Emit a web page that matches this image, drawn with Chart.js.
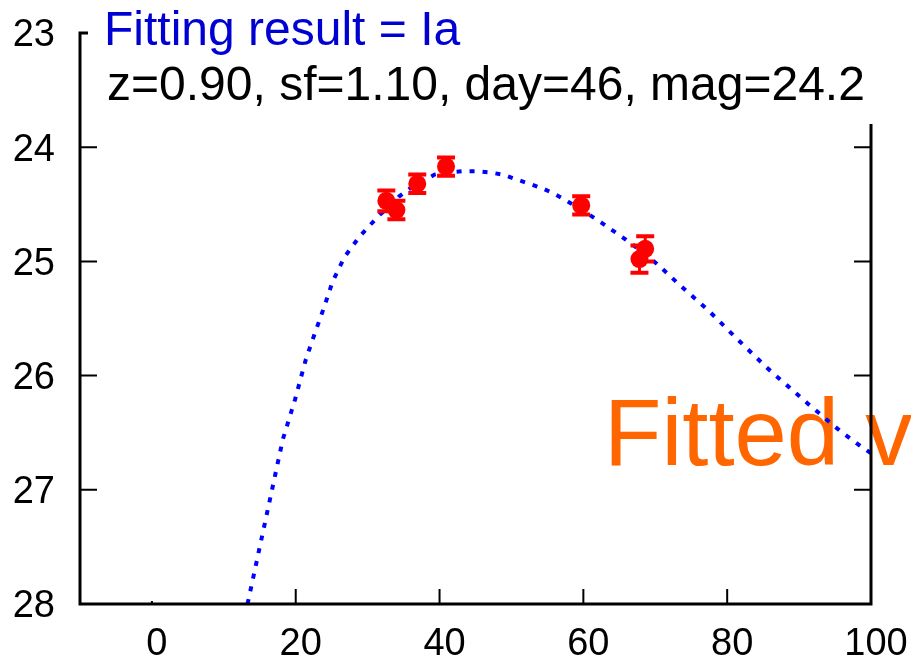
<!DOCTYPE html>
<html>
<head>
<meta charset="utf-8">
<script src="https://cdn.jsdelivr.net/npm/chart.js@4.4.1/dist/chart.umd.min.js"></script>
<style>
html,body{margin:0;padding:0;background:#fff}
#wrap{width:911px;height:661px;position:relative}
</style>
</head>
<body>
<div id="wrap"><canvas id="lightCurve"></canvas></div>
<script>

// observed photometry: day, magnitude, error
const obsDay = [32.6, 34.0, 36.9, 40.9, 59.7, 68.6, 67.8]
const obsMag = [24.47, 24.55, 24.32, 24.17, 24.51, 24.89, 24.98]
const obsErr = [0.09, 0.08, 0.08, 0.08, 0.08, 0.11, 0.12]

// fitted Ia template
const fitDay = [
    13.3, 15.0, 16.6, 18.2, 19.9, 21.4, 22.6, 23.9, 25.1, 26.8,
    28.9, 31.7, 33.1, 34.4, 35.9, 37.6, 39.3, 41.2, 43.2, 45.1,
    46.9, 48.8, 50.6, 52.5, 54.3, 56.0, 57.7, 60.8, 62.5, 64.1,
    65.7, 67.2, 68.7, 70.2, 71.6, 73.1, 77.4, 81.4, 85.5, 88.4,
    91.3, 95.8, 98.8, 100
]
const fitMag = [
    28.0, 27.50, 27.03, 26.56, 26.21, 25.86, 25.64, 25.41, 25.18, 24.96,
    24.78, 24.59, 24.52, 24.43, 24.36, 24.30, 24.24, 24.22, 24.21, 24.21,
    24.22, 24.24, 24.28, 24.32, 24.36, 24.41, 24.47, 24.59, 24.66, 24.73,
    24.80, 24.87, 24.94, 25.02, 25.10, 25.19, 25.43, 25.68, 25.93, 26.09,
    26.25, 26.49, 26.63, 26.68
]

const dayTicks = [0, 20, 40, 60, 80, 100]
const magTicks = [23, 24, 25, 26, 27, 28]

const fitTitle = "Fitting result = Ia"
const fitParams = "z=0.90, sf=1.10, day=46, mag=24.2"
const stampText = "Fitted v"

const FONT = "'Liberation Sans', Arial, Helvetica, sans-serif"
Chart.defaults.font.family = FONT

function pairs(xs, ys){
    return xs.map((x, i) => ({x: x, y: ys[i]}))
}

// keep the tick labels from pushing the plot area around
function noOverflow(s){
    s.paddingTop = 0
    s.paddingBottom = 0
    s.paddingLeft = 0
    s.paddingRight = 0
}

const framePlugin = {
    id: "frame",

    beforeDatasetsDraw(chart){
        const ctx = chart.ctx
        ctx.save()
        ctx.fillStyle = "#ff6600"
        ctx.font = "94px " + FONT
        ctx.textBaseline = "alphabetic"
        ctx.fillText(stampText, 604, 465)
        ctx.restore()
    },

    afterDatasetsDraw(chart){
        // error bars on the observed points
        const ctx = chart.ctx
        const xs = chart.scales.x
        const ys = chart.scales.y
        ctx.save()
        ctx.strokeStyle = "#ff0000"
        obsDay.forEach((d, i) => {
            const px = xs.getPixelForValue(d)
            const top = ys.getPixelForValue(obsMag[i] - obsErr[i])
            const bot = ys.getPixelForValue(obsMag[i] + obsErr[i])
            ctx.lineWidth = 3
            ctx.beginPath()
            ctx.moveTo(px, top)
            ctx.lineTo(px, bot)
            ctx.stroke()
            ctx.lineWidth = 4
            ctx.beginPath()
            ctx.moveTo(px - 9, top)
            ctx.lineTo(px + 9, top)
            ctx.moveTo(px - 9, bot)
            ctx.lineTo(px + 9, bot)
            ctx.stroke()
        })
        ctx.restore()
    },

    afterDraw(chart){
        const ctx = chart.ctx
        const a = chart.chartArea
        const xs = chart.scales.x
        const ys = chart.scales.y
        ctx.save()

        // box
        ctx.strokeStyle = "#000"
        ctx.lineWidth = 3
        ctx.lineCap = "square"
        ctx.beginPath()
        ctx.moveTo(a.left, a.top)
        ctx.lineTo(a.left, a.bottom)
        ctx.lineTo(a.right, a.bottom)
        ctx.lineTo(a.right, a.top)
        ctx.closePath()
        ctx.stroke()

        // inward ticks
        ctx.lineWidth = 2
        ctx.lineCap = "butt"
        ctx.beginPath()
        magTicks.forEach(m => {
            if (m === 23 || m === 28) return
            const py = ys.getPixelForValue(m)
            ctx.moveTo(a.left, py)
            ctx.lineTo(a.left + 17, py)
            ctx.moveTo(a.right, py)
            ctx.lineTo(a.right - 17, py)
        })
        dayTicks.forEach(d => {
            if (d === 100) return
            const px = xs.getPixelForValue(d)
            const len = d === 0 ? 3 : 15
            ctx.moveTo(px, a.bottom)
            ctx.lineTo(px, a.bottom - len)
        })
        ctx.stroke()

        // label block sits over the top of the frame
        ctx.fillStyle = "#fff"
        ctx.fillRect(88, 0, chart.width - 88, 124)

        ctx.textBaseline = "alphabetic"
        ctx.font = "48px " + FONT
        ctx.fillStyle = "#0000d2"
        ctx.fillText(fitTitle, 104, 45)
        ctx.fillStyle = "#000"
        ctx.fillText(fitParams, 107, 100)

        ctx.restore()
    }
}

new Chart(
    document.getElementById("lightCurve"),
    {
        type: "scatter",

        data: {
            datasets: [
                {
                    label: "observed",
                    data: pairs(obsDay, obsMag),
                    pointRadius: 9,
                    pointHoverRadius: 9,
                    pointBackgroundColor: "#ff0000",
                    pointBorderColor: "#ff0000",
                    pointBorderWidth: 0,
                    showLine: false
                },
                {
                    label: "fit",
                    data: pairs(fitDay, fitMag),
                    showLine: true,
                    pointRadius: 0,
                    borderColor: "#0000ff",
                    borderWidth: 4,
                    borderDash: [5, 8],
                    tension: 0,
                    fill: false
                }
            ]
        },

        options: {
            responsive: true,
            maintainAspectRatio: false,
            animation: false,
            events: [],
            layout: {
                padding: {top: 33, right: 40, left: 0, bottom: 0}
            },
            plugins: {
                legend: {display: false},
                tooltip: {enabled: false}
            },
            scales: {
                x: {
                    type: "linear",
                    min: -10,
                    max: 100,
                    grid: {display: false, drawTicks: false},
                    border: {display: false},
                    afterBuildTicks: s => {
                        s.ticks = dayTicks.map(v => ({value: v}))
                    },
                    afterFit: s => {
                        s.height = 57
                        noOverflow(s)
                    },
                    ticks: {
                        padding: 18,
                        labelOffset: 5,
                        color: "#000",
                        font: {size: 38}
                    }
                },
                y: {
                    type: "linear",
                    min: 23,
                    max: 28,
                    reverse: true,
                    grid: {display: false, drawTicks: false},
                    border: {display: false},
                    afterBuildTicks: s => {
                        s.ticks = magTicks.map(v => ({value: v}))
                    },
                    afterFit: s => {
                        s.width = 80
                        noOverflow(s)
                    },
                    ticks: {
                        padding: 25,
                        labelOffset: 3,
                        color: "#000",
                        font: {size: 38}
                    }
                }
            }
        },

        plugins: [framePlugin]
    }
)
</script>
</body>
</html>
